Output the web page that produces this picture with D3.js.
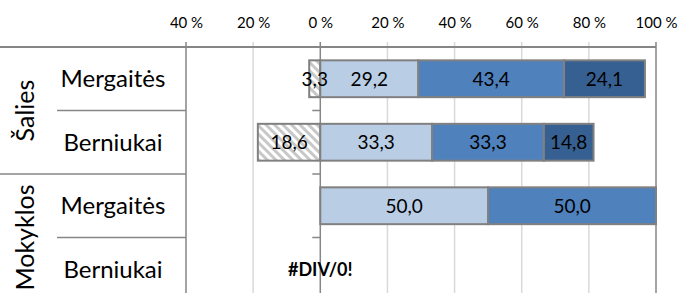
<!DOCTYPE html>
<html>
<head>
<meta charset="utf-8">
<script src="https://cdn.jsdelivr.net/npm/d3@7"></script>
<style>
  body { margin: 0; background: #fff; }
  svg { display: block; font-family: Lato, "Liberation Sans", sans-serif; }
</style>
</head>
<body>
<div id="chart"></div>
<script>
// data
const groups = ["Šalies", "Mokyklos"];
const categories = ["Mergaitės", "Berniukai", "Mergaitės", "Berniukai"];
const rowGroup = [0, 0, 1, 1];
const negValues = [3.3, 18.6, null, null];   // hatched, drawn to the left of 0
const s1Values = [29.2, 33.3, 50.0, null];
const s2Values = [43.4, 33.3, 50.0, null];
const s3Values = [24.1, 14.8, null, null];
const errorLabels = [null, null, null, "#DIV/0!"];
const tickValues = [-40, -20, 0, 20, 40, 60, 80, 100];
const tickLabels = ["40 %", "20 %", "0 %", "20 %", "40 %", "60 %", "80 %", "100 %"];

const width = 681, height = 293;
const colors = ["#b9cde5", "#4f81bd", "#376092"];
const axisGray = "#868686", gridGray = "#d9d9d9";

const svg = d3.select("#chart").append("svg")
  .attr("width", width)
  .attr("height", height);

const defs = svg.append("defs");
const pat = defs.append("pattern")
  .attr("id", "hatch")
  .attr("patternUnits", "userSpaceOnUse")
  .attr("width", 6).attr("height", 6)
  .attr("patternTransform", "rotate(-45)");
pat.append("rect").attr("width", 6).attr("height", 6).attr("fill", "#ffffff");
pat.append("rect").attr("width", 3).attr("height", 6).attr("fill", "#c8c8c8");

const x = d3.scaleLinear().domain([-40, 100]).range([186, 656]);
const y = d3.scaleBand()
  .domain(d3.range(categories.length))
  .range([47, 301])
  .paddingInner(0.42)
  .paddingOuter(0.21);
const rowY = d3.scaleBand().domain(d3.range(categories.length)).range([47, 301]);

// gridlines (also act as the tick marks above the axis)
svg.append("g").selectAll("line")
  .data(tickValues)
  .join("line")
  .attr("x1", d => x(d)).attr("x2", d => x(d))
  .attr("y1", 42).attr("y2", height + 10)
  .attr("stroke", d => (d === -40 || d === 0 || d === 100) ? axisGray : gridGray)
  .attr("stroke-width", 1.5);

// top axis
const axis = d3.axisTop(x)
  .tickValues(tickValues)
  .tickFormat((d, i) => tickLabels[i])
  .tickSize(0)
  .tickPadding(19);
const gAxis = svg.append("g").attr("transform", "translate(0,47)").call(axis);
gAxis.select(".domain").remove();
gAxis.selectAll("text")
  .attr("fill", "#000")
  .style("font-size", "15px")
  .style("font-family", "Lato, sans-serif");
svg.append("line")
  .attr("x1", 0).attr("x2", x(100))
  .attr("y1", 47).attr("y2", 47)
  .attr("stroke", axisGray).attr("stroke-width", 2);

// category separators on the left and small ticks at the zero axis
const bounds = d3.range(1, categories.length).map(i => rowY(i));
svg.append("g").selectAll("line")
  .data(bounds)
  .join("line")
  .attr("x1", (d, i) => i === 1 ? 0 : 57)
  .attr("x2", x(-40))
  .attr("y1", d => d).attr("y2", d => d)
  .attr("stroke", axisGray).attr("stroke-width", 1.5);
svg.append("g").selectAll("line")
  .data(bounds)
  .join("line")
  .attr("x1", x(0) - 8).attr("x2", x(0))
  .attr("y1", d => d).attr("y2", d => d)
  .attr("stroke", axisGray).attr("stroke-width", 1.5);

// bars
const fmt = v => d3.format(".1f")(v).replace(".", ",");
const rows = categories.map((c, i) => {
  const segs = [];
  if (negValues[i] != null) segs.push({ x0: -negValues[i], x1: 0, v: negValues[i], fill: "url(#hatch)" });
  let acc = 0;
  [s1Values, s2Values, s3Values].forEach((arr, k) => {
    if (arr[i] != null) {
      segs.push({ x0: acc, x1: acc + arr[i], v: arr[i], fill: colors[k] });
      acc += arr[i];
    }
  });
  return { i, segs };
});

const gRow = svg.append("g").selectAll("g")
  .data(rows)
  .join("g")
  .attr("transform", d => `translate(0,${y(d.i)})`);

gRow.selectAll("rect")
  .data(d => d.segs)
  .join("rect")
  .attr("x", d => x(d.x0))
  .attr("width", d => x(d.x1) - x(d.x0))
  .attr("height", y.bandwidth())
  .attr("fill", d => d.fill)
  .attr("stroke", "#808080")
  .attr("stroke-width", 2);

gRow.selectAll("text")
  .data(d => d.segs)
  .join("text")
  .attr("x", d => (x(d.x0) + x(d.x1)) / 2)
  .attr("y", y.bandwidth() / 2)
  .attr("dy", "0.36em")
  .attr("text-anchor", "middle")
  .style("font-size", "19px")
  .attr("fill", "#000")
  .text(d => fmt(d.v));

// error labels
svg.append("g").selectAll("text")
  .data(errorLabels.map((t, i) => ({ t, i })).filter(d => d.t))
  .join("text")
  .attr("x", x(0))
  .attr("y", d => rowY(d.i) + rowY.bandwidth() / 2)
  .attr("dy", "0.36em")
  .attr("text-anchor", "middle")
  .style("font-size", "18px")
  .style("font-weight", "bold")
  .text(d => d.t);

// category labels
svg.append("g").selectAll("text")
  .data(categories)
  .join("text")
  .attr("x", 113)
  .attr("y", (d, i) => rowY(i) + rowY.bandwidth() / 2)
  .attr("dy", "0.36em")
  .attr("text-anchor", "middle")
  .style("font-size", "24px")
  .text(d => d);

// group labels (rotated)
svg.append("g").selectAll("text")
  .data(groups)
  .join("text")
  .attr("transform", (d, gi) => {
    const idx = rowGroup.map((g, i) => g === gi ? i : -1).filter(i => i >= 0);
    const cy = (rowY(idx[0]) + rowY(idx[idx.length - 1]) + rowY.bandwidth()) / 2;
    return `translate(25,${cy}) rotate(-90)`;
  })
  .attr("dy", "0.36em")
  .attr("text-anchor", "middle")
  .style("font-size", "25px")
  .text(d => d);
</script>
</body>
</html>
